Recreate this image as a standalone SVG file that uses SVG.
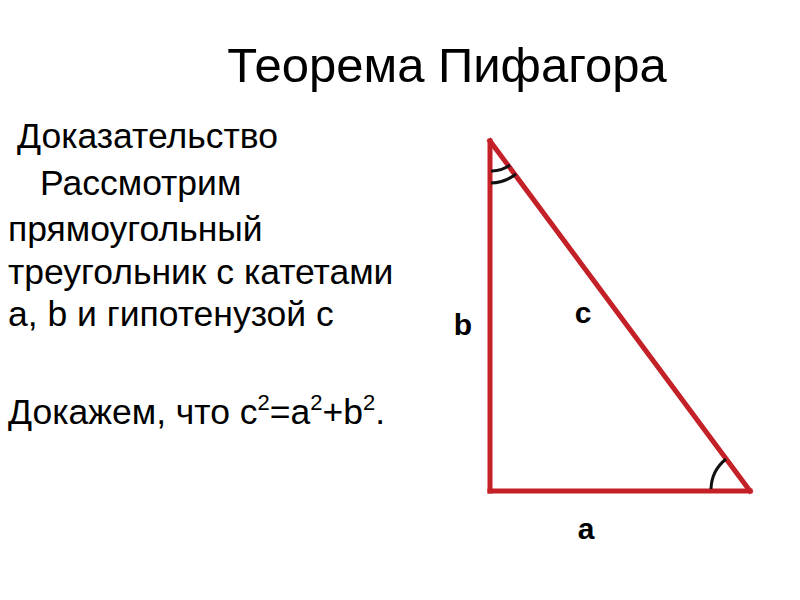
<svg xmlns="http://www.w3.org/2000/svg" width="800" height="600" viewBox="0 0 800 600">
<style>
.t{font-family:"Liberation Sans",Arial,sans-serif;fill:#000}
.body{font-size:35.5px}
.lbl{font-size:30px;font-weight:bold}
.side{stroke:#c42028;stroke-width:5;fill:none;stroke-linecap:square}
.arc{stroke:#111;stroke-width:3;fill:none}
</style>
<rect width="800" height="600" fill="#fff"/>
<text class="t" x="447" y="82" font-size="49" text-anchor="middle">Теорема Пифагора</text>
<g id="text">
<text class="t body" x="17" y="148">Доказательство</text>
<text class="t body" x="40" y="195">Рассмотрим</text>
<text class="t body" x="8" y="241">прямоугольный</text>
<text class="t body" x="8" y="284">треугольник с катетами</text>
<text class="t body" x="8" y="326">a, b и гипотенузой c</text>
<text class="t body" x="8" y="424">Докажем, что c<tspan font-size="22" dy="-14">2</tspan><tspan dy="14">=a</tspan><tspan font-size="22" dy="-14">2</tspan><tspan dy="14">+b</tspan><tspan font-size="22" dy="-14">2</tspan><tspan dy="14">.</tspan></text>
</g>
<g id="connectors">
<line class="side" x1="490" y1="141" x2="490" y2="491"/>
<line class="side" x1="490" y1="491" x2="750" y2="491"/>
<line class="side" x1="490" y1="141" x2="750" y2="491"/>
<path class="arc" d="M491,171 A30,30 0 0 0 510,165"/>
<path class="arc" d="M491,183 A42,42 0 0 0 516,174"/>
<path class="arc" d="M711,489 A40,40 0 0 1 726,459"/>
</g>
<g id="labels">
<text class="t lbl" x="463" y="335" text-anchor="middle">b</text>
<text class="t lbl" x="583" y="323" text-anchor="middle">c</text>
<text class="t lbl" x="586" y="539" text-anchor="middle">a</text>
</g>
</svg>
